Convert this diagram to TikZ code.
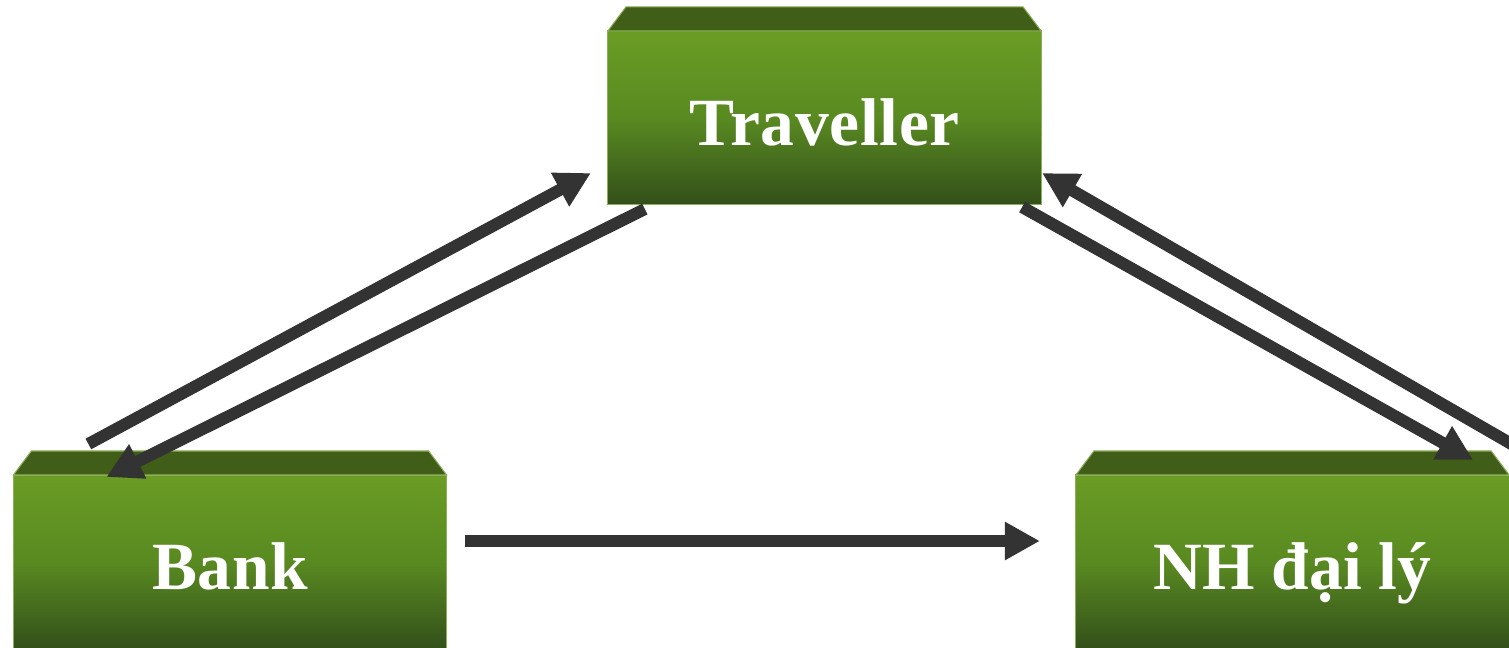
\documentclass[tikz,border=0pt]{standalone}
\usepackage{fontspec}
\setmainfont{Liberation Serif}
\usetikzlibrary{calc,arrows.meta}
\definecolor{facetop}{HTML}{6A9C25}
\definecolor{facemid}{HTML}{598A21}
\definecolor{facebot}{HTML}{33501A}
\definecolor{lidcol}{HTML}{405E18}
\definecolor{edgecol}{HTML}{8CB05A}
\definecolor{arrcol}{HTML}{333333}
\tikzset{
  box/.style={rectangle, inner sep=0pt, outer sep=0pt,
    minimum width=4.33cm, minimum height=1.73cm,
    top color=facetop, bottom color=facebot, middle color=facemid,
    draw=edgecol, line width=0.3pt,
    text=white, font=\fontsize{19.2}{22}\selectfont\bfseries},
  boxtext/.style={text height=0.56cm, text depth=0pt},
  lid/.style={fill=lidcol, draw=edgecol, line width=0.3pt},
  arr/.style={draw=arrcol, line width=0.12cm, line cap=butt,
    -{Triangle[length=0.35cm,width=0.36cm]}}
}
\begin{document}
\begin{tikzpicture}[x=0.01cm,y=-0.01cm]
\useasboundingbox (0,0) rectangle (1509,647);
\clip (0,0) rectangle (1509,647);
\fill[white] (0,0) rectangle (1509,647);
\node[box,boxtext] (trav) at (824.5,117.5) {\addfontfeature{LetterSpace=1}Traveller};
\node[box,boxtext] (bank) at (230,561.5) {\addfontfeature{LetterSpace=1}Bank};
\node[box,boxtext] (nh) at (1292.5,561.5) {NH đại lý};
\foreach \n in {trav,bank,nh}{
  \path[lid] (\n.north west) -- ($(\n.north west)+(18,-24)$) -- ($(\n.north east)+(-18,-24)$) -- (\n.north east) -- cycle;
}
\draw[arr] ($(bank.north west)+(75,-31)$) -- ($(trav.south west)+(-17,-31)$);
\draw[arr] ($(trav.south west)+(37,5)$) -- ($(bank.north west)+(93,2)$);
\draw[arr] ($(trav.south east)+(-19,3)$) -- ($(nh.north east)+(-36,-15)$);
\draw[arr] ($(nh.north east)+(4,-30)$) -- ($(trav.south east)+(1,-31)$);
\draw[arr] ($(bank.east)+(18,-20.5)$) -- ($(nh.west)+(-36,-20.5)$);
\end{tikzpicture}
\end{document}
